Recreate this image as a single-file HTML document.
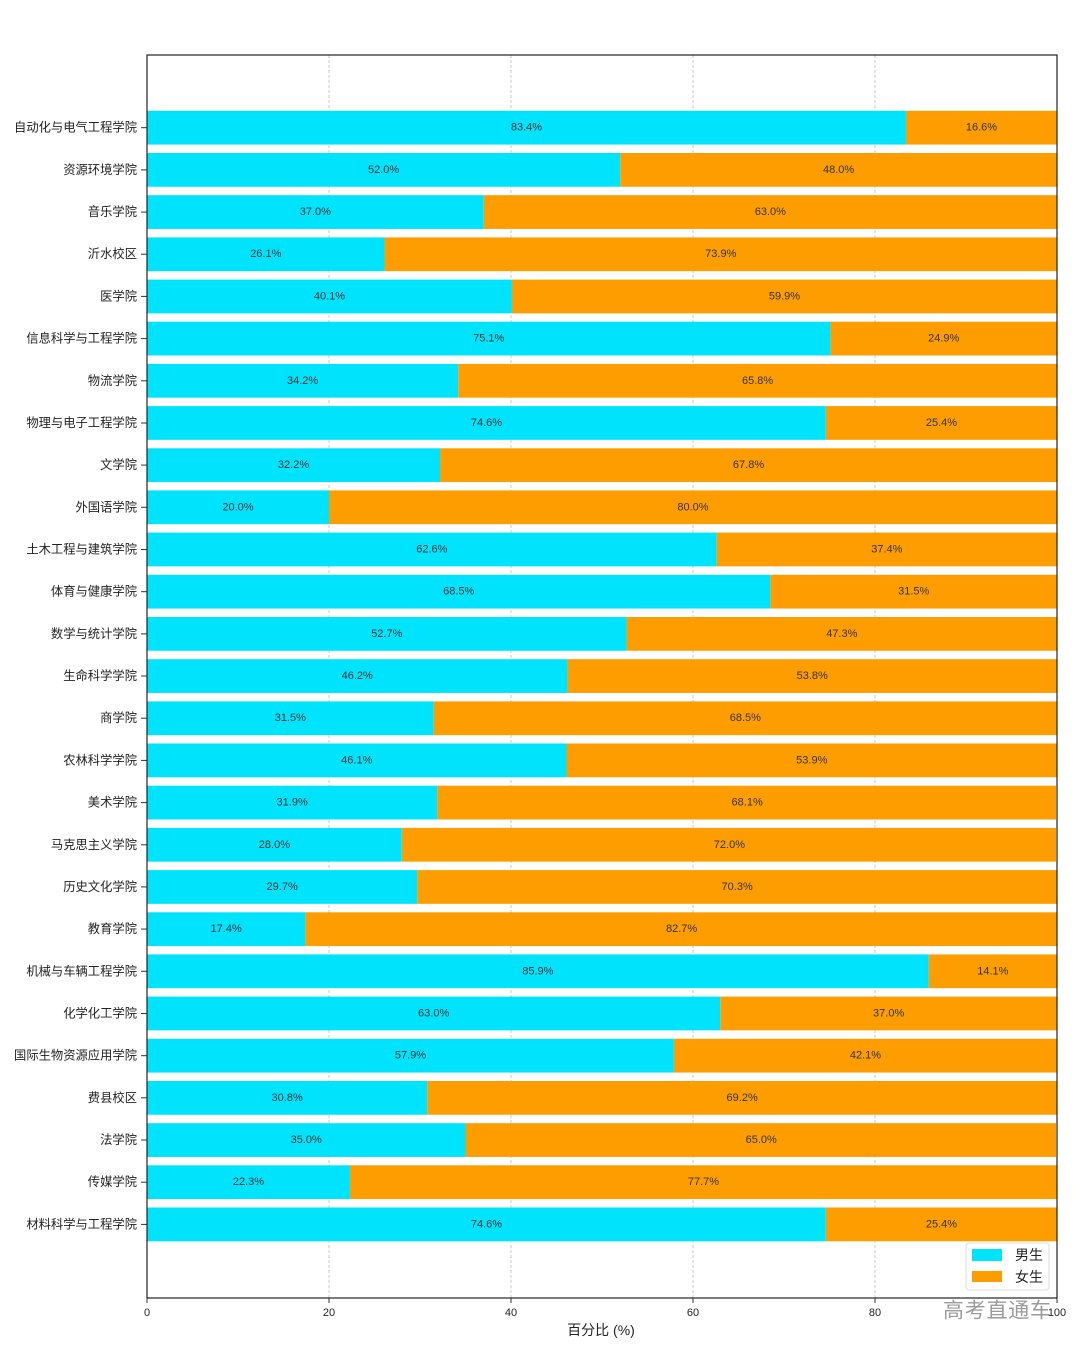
<!DOCTYPE html>
<html><head><meta charset="utf-8"><style>
html,body{margin:0;padding:0;background:#fff;}
svg{display:block;}
.yl{font-family:"Liberation Sans","Noto Sans CJK SC",sans-serif;font-size:12.3px;fill:#222;text-anchor:end;dominant-baseline:central;}
.bl{font-family:"Liberation Sans","Noto Sans CJK SC",sans-serif;font-size:11px;fill:#333;text-anchor:middle;dominant-baseline:central;}
.xt{font-family:"Liberation Sans","Noto Sans CJK SC",sans-serif;font-size:11px;fill:#222;text-anchor:middle;dominant-baseline:central;}
.c{fill:#00e3fd;}
.o{fill:#fd9d00;}
</style></head><body>
<svg width="1080" height="1350" viewBox="0 0 1080 1350" xmlns="http://www.w3.org/2000/svg">
<rect width="1080" height="1350" fill="#fff"/>
<g stroke="#c8c8c8" stroke-width="1" stroke-dasharray="3,2">
<line x1="329" y1="55" x2="329" y2="1298"/>
<line x1="511" y1="55" x2="511" y2="1298"/>
<line x1="693" y1="55" x2="693" y2="1298"/>
<line x1="875" y1="55" x2="875" y2="1298"/>
</g>
<g>
<rect class="c" x="147" y="110.8" width="758.94" height="33.75"/><rect class="o" x="905.94" y="110.8" width="151.06" height="33.75"/>
<rect class="c" x="147" y="153.0" width="473.2" height="33.75"/><rect class="o" x="620.2" y="153.0" width="436.8" height="33.75"/>
<rect class="c" x="147" y="195.2" width="336.7" height="33.75"/><rect class="o" x="483.7" y="195.2" width="573.3" height="33.75"/>
<rect class="c" x="147" y="237.4" width="237.51" height="33.75"/><rect class="o" x="384.51" y="237.4" width="672.49" height="33.75"/>
<rect class="c" x="147" y="279.6" width="364.91" height="33.75"/><rect class="o" x="511.91" y="279.6" width="545.09" height="33.75"/>
<rect class="c" x="147" y="321.7" width="683.41" height="33.75"/><rect class="o" x="830.41" y="321.7" width="226.59" height="33.75"/>
<rect class="c" x="147" y="363.9" width="311.22" height="33.75"/><rect class="o" x="458.22" y="363.9" width="598.78" height="33.75"/>
<rect class="c" x="147" y="406.1" width="678.86" height="33.75"/><rect class="o" x="825.86" y="406.1" width="231.14" height="33.75"/>
<rect class="c" x="147" y="448.3" width="293.02" height="33.75"/><rect class="o" x="440.02" y="448.3" width="616.98" height="33.75"/>
<rect class="c" x="147" y="490.4" width="182" height="33.75"/><rect class="o" x="329" y="490.4" width="728" height="33.75"/>
<rect class="c" x="147" y="532.6" width="569.66" height="33.75"/><rect class="o" x="716.66" y="532.6" width="340.34" height="33.75"/>
<rect class="c" x="147" y="574.8" width="623.35" height="33.75"/><rect class="o" x="770.35" y="574.8" width="286.65" height="33.75"/>
<rect class="c" x="147" y="617.0" width="479.57" height="33.75"/><rect class="o" x="626.57" y="617.0" width="430.43" height="33.75"/>
<rect class="c" x="147" y="659.2" width="420.42" height="33.75"/><rect class="o" x="567.42" y="659.2" width="489.58" height="33.75"/>
<rect class="c" x="147" y="701.4" width="286.65" height="33.75"/><rect class="o" x="433.65" y="701.4" width="623.35" height="33.75"/>
<rect class="c" x="147" y="743.5" width="419.51" height="33.75"/><rect class="o" x="566.51" y="743.5" width="490.49" height="33.75"/>
<rect class="c" x="147" y="785.7" width="290.29" height="33.75"/><rect class="o" x="437.29" y="785.7" width="618.7" height="33.75"/>
<rect class="c" x="147" y="827.9" width="254.8" height="33.75"/><rect class="o" x="401.8" y="827.9" width="654.2" height="33.75"/>
<rect class="c" x="147" y="870.1" width="270.27" height="33.75"/><rect class="o" x="417.27" y="870.1" width="639.73" height="33.75"/>
<rect class="c" x="147" y="912.3" width="158.34" height="33.75"/><rect class="o" x="305.34" y="912.3" width="751.66" height="33.75"/>
<rect class="c" x="147" y="954.4" width="781.69" height="33.75"/><rect class="o" x="928.69" y="954.4" width="128.31" height="33.75"/>
<rect class="c" x="147" y="996.6" width="573.3" height="33.75"/><rect class="o" x="720.3" y="996.6" width="336.7" height="33.75"/>
<rect class="c" x="147" y="1038.8" width="526.89" height="33.75"/><rect class="o" x="673.89" y="1038.8" width="383.11" height="33.75"/>
<rect class="c" x="147" y="1081.0" width="280.28" height="33.75"/><rect class="o" x="427.28" y="1081.0" width="629.72" height="33.75"/>
<rect class="c" x="147" y="1123.2" width="318.5" height="33.75"/><rect class="o" x="465.5" y="1123.2" width="590.5" height="33.75"/>
<rect class="c" x="147" y="1165.3" width="202.93" height="33.75"/><rect class="o" x="349.93" y="1165.3" width="707.07" height="33.75"/>
<rect class="c" x="147" y="1207.5" width="678.86" height="33.75"/><rect class="o" x="825.86" y="1207.5" width="231.14" height="33.75"/>
</g>
<g>
<text class="bl" x="526.47" y="127.7">83.4%</text><text class="bl" x="981.47" y="127.7">16.6%</text>
<text class="bl" x="383.6" y="169.9">52.0%</text><text class="bl" x="838.6" y="169.9">48.0%</text>
<text class="bl" x="315.35" y="212.1">37.0%</text><text class="bl" x="770.35" y="212.1">63.0%</text>
<text class="bl" x="265.76" y="254.2">26.1%</text><text class="bl" x="720.76" y="254.2">73.9%</text>
<text class="bl" x="329.46" y="296.4">40.1%</text><text class="bl" x="784.46" y="296.4">59.9%</text>
<text class="bl" x="488.7" y="338.6">75.1%</text><text class="bl" x="943.7" y="338.6">24.9%</text>
<text class="bl" x="302.61" y="380.8">34.2%</text><text class="bl" x="757.61" y="380.8">65.8%</text>
<text class="bl" x="486.43" y="423.0">74.6%</text><text class="bl" x="941.43" y="423.0">25.4%</text>
<text class="bl" x="293.51" y="465.1">32.2%</text><text class="bl" x="748.51" y="465.1">67.8%</text>
<text class="bl" x="238" y="507.3">20.0%</text><text class="bl" x="693" y="507.3">80.0%</text>
<text class="bl" x="431.83" y="549.5">62.6%</text><text class="bl" x="886.83" y="549.5">37.4%</text>
<text class="bl" x="458.68" y="591.7">68.5%</text><text class="bl" x="913.68" y="591.7">31.5%</text>
<text class="bl" x="386.79" y="633.9">52.7%</text><text class="bl" x="841.79" y="633.9">47.3%</text>
<text class="bl" x="357.21" y="676.0">46.2%</text><text class="bl" x="812.21" y="676.0">53.8%</text>
<text class="bl" x="290.33" y="718.2">31.5%</text><text class="bl" x="745.33" y="718.2">68.5%</text>
<text class="bl" x="356.76" y="760.4">46.1%</text><text class="bl" x="811.76" y="760.4">53.9%</text>
<text class="bl" x="292.15" y="802.6">31.9%</text><text class="bl" x="747.15" y="802.6">68.1%</text>
<text class="bl" x="274.4" y="844.8">28.0%</text><text class="bl" x="729.4" y="844.8">72.0%</text>
<text class="bl" x="282.14" y="886.9">29.7%</text><text class="bl" x="737.14" y="886.9">70.3%</text>
<text class="bl" x="226.17" y="929.1">17.4%</text><text class="bl" x="681.63" y="929.1">82.7%</text>
<text class="bl" x="537.85" y="971.3">85.9%</text><text class="bl" x="992.85" y="971.3">14.1%</text>
<text class="bl" x="433.65" y="1013.5">63.0%</text><text class="bl" x="888.65" y="1013.5">37.0%</text>
<text class="bl" x="410.45" y="1055.7">57.9%</text><text class="bl" x="865.45" y="1055.7">42.1%</text>
<text class="bl" x="287.14" y="1097.8">30.8%</text><text class="bl" x="742.14" y="1097.8">69.2%</text>
<text class="bl" x="306.25" y="1140.0">35.0%</text><text class="bl" x="761.25" y="1140.0">65.0%</text>
<text class="bl" x="248.47" y="1182.2">22.3%</text><text class="bl" x="703.47" y="1182.2">77.7%</text>
<text class="bl" x="486.43" y="1224.4">74.6%</text><text class="bl" x="941.43" y="1224.4">25.4%</text>
</g>
<g>
<text class="yl" x="137" y="127.7">自动化与电气工程学院</text>
<text class="yl" x="137" y="169.9">资源环境学院</text>
<text class="yl" x="137" y="212.1">音乐学院</text>
<text class="yl" x="137" y="254.2">沂水校区</text>
<text class="yl" x="137" y="296.4">医学院</text>
<text class="yl" x="137" y="338.6">信息科学与工程学院</text>
<text class="yl" x="137" y="380.8">物流学院</text>
<text class="yl" x="137" y="423.0">物理与电子工程学院</text>
<text class="yl" x="137" y="465.1">文学院</text>
<text class="yl" x="137" y="507.3">外国语学院</text>
<text class="yl" x="137" y="549.5">土木工程与建筑学院</text>
<text class="yl" x="137" y="591.7">体育与健康学院</text>
<text class="yl" x="137" y="633.9">数学与统计学院</text>
<text class="yl" x="137" y="676.0">生命科学学院</text>
<text class="yl" x="137" y="718.2">商学院</text>
<text class="yl" x="137" y="760.4">农林科学学院</text>
<text class="yl" x="137" y="802.6">美术学院</text>
<text class="yl" x="137" y="844.8">马克思主义学院</text>
<text class="yl" x="137" y="886.9">历史文化学院</text>
<text class="yl" x="137" y="929.1">教育学院</text>
<text class="yl" x="137" y="971.3">机械与车辆工程学院</text>
<text class="yl" x="137" y="1013.5">化学化工学院</text>
<text class="yl" x="137" y="1055.7">国际生物资源应用学院</text>
<text class="yl" x="137" y="1097.8">费县校区</text>
<text class="yl" x="137" y="1140.0">法学院</text>
<text class="yl" x="137" y="1182.2">传媒学院</text>
<text class="yl" x="137" y="1224.4">材料科学与工程学院</text>
</g>
<g stroke="#333" stroke-width="1">
<line x1="141" y1="127.7" x2="147" y2="127.7"/><line x1="141" y1="169.9" x2="147" y2="169.9"/><line x1="141" y1="212.1" x2="147" y2="212.1"/><line x1="141" y1="254.2" x2="147" y2="254.2"/><line x1="141" y1="296.4" x2="147" y2="296.4"/><line x1="141" y1="338.6" x2="147" y2="338.6"/><line x1="141" y1="380.8" x2="147" y2="380.8"/><line x1="141" y1="423.0" x2="147" y2="423.0"/><line x1="141" y1="465.1" x2="147" y2="465.1"/><line x1="141" y1="507.3" x2="147" y2="507.3"/><line x1="141" y1="549.5" x2="147" y2="549.5"/><line x1="141" y1="591.7" x2="147" y2="591.7"/><line x1="141" y1="633.9" x2="147" y2="633.9"/><line x1="141" y1="676.0" x2="147" y2="676.0"/><line x1="141" y1="718.2" x2="147" y2="718.2"/><line x1="141" y1="760.4" x2="147" y2="760.4"/><line x1="141" y1="802.6" x2="147" y2="802.6"/><line x1="141" y1="844.8" x2="147" y2="844.8"/><line x1="141" y1="886.9" x2="147" y2="886.9"/><line x1="141" y1="929.1" x2="147" y2="929.1"/><line x1="141" y1="971.3" x2="147" y2="971.3"/><line x1="141" y1="1013.5" x2="147" y2="1013.5"/><line x1="141" y1="1055.7" x2="147" y2="1055.7"/><line x1="141" y1="1097.8" x2="147" y2="1097.8"/><line x1="141" y1="1140.0" x2="147" y2="1140.0"/><line x1="141" y1="1182.2" x2="147" y2="1182.2"/><line x1="141" y1="1224.4" x2="147" y2="1224.4"/>
<line x1="147" y1="1298" x2="147" y2="1303"/><line x1="329" y1="1298" x2="329" y2="1303"/><line x1="511" y1="1298" x2="511" y2="1303"/><line x1="693" y1="1298" x2="693" y2="1303"/><line x1="875" y1="1298" x2="875" y2="1303"/><line x1="1057" y1="1298" x2="1057" y2="1303"/>
</g>
<rect x="147" y="55" width="910" height="1243" fill="none" stroke="#222" stroke-width="1.2"/>
<g>
<text class="xt" x="147" y="1313">0</text>
<text class="xt" x="329" y="1313">20</text>
<text class="xt" x="511" y="1313">40</text>
<text class="xt" x="693" y="1313">60</text>
<text class="xt" x="875" y="1313">80</text>
<text class="xt" x="1057" y="1313">100</text>
</g>
<text x="601" y="1330" font-family="Liberation Sans, Noto Sans CJK SC, sans-serif" font-size="14" fill="#222" text-anchor="middle" dominant-baseline="central">百分比 (%)</text>
<rect x="966" y="1243" width="83" height="47" rx="3" fill="#fff" fill-opacity="0.85" stroke="#ddd" stroke-width="1"/>
<rect x="972" y="1249" width="30" height="12" fill="#00e3fd"/>
<rect x="972" y="1271" width="30" height="11" fill="#fd9d00"/>
<text x="1015" y="1255" font-family="Liberation Sans, Noto Sans CJK SC, sans-serif" font-size="14" fill="#222" dominant-baseline="central">男生</text>
<text x="1015" y="1277" font-family="Liberation Sans, Noto Sans CJK SC, sans-serif" font-size="14" fill="#222" dominant-baseline="central">女生</text>
<text x="943" y="1311" font-family="Liberation Sans, Noto Sans CJK SC, sans-serif" font-size="21" fill="#8a8a8a" fill-opacity="0.85" dominant-baseline="central" textLength="108">高考直通车</text>
</svg>
</body></html>
